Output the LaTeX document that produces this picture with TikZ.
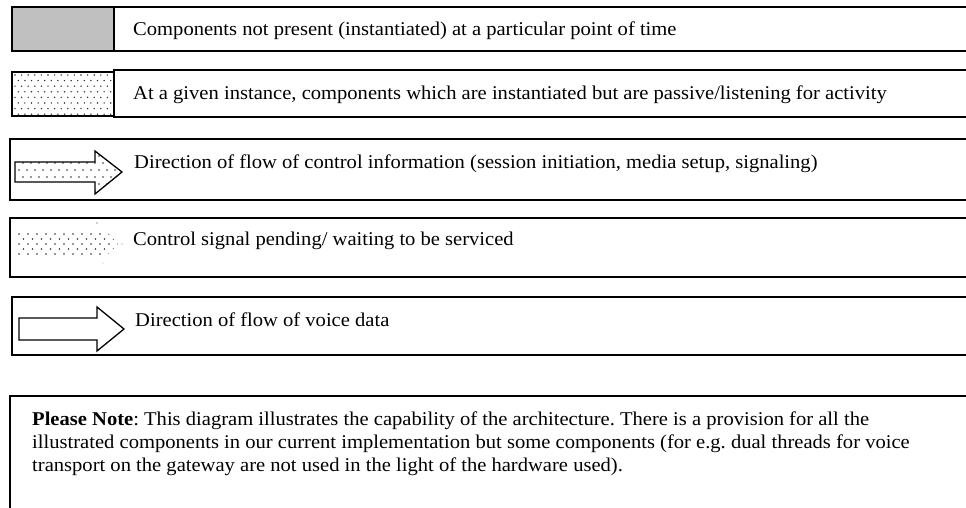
\documentclass[tikz,border=0pt]{standalone}
\usepackage{fontspec}
\setmainfont[FakeStretch=1.055]{Liberation Serif}
\begin{document}
\frenchspacing
\begin{tikzpicture}[x=1pt,y=-1pt,
  frame/.style={draw=black, line width=1.6pt},
  arrowshape/.style={draw=black, line width=1.3pt, line join=miter},
  lbl/.style={anchor=base west, inner sep=0pt, font=\fontsize{19.5}{23}\selectfont},
  note/.style={anchor=base west, inner sep=0pt, align=left,
    font=\fontsize{19.5}{23}\selectfont},
  dot/.style={fill=black!80}]
\useasboundingbox (0,0) rectangle (966,508);
\clip (0,0) rectangle (966,508);

% 1: absent components (grey)
\fill[fill={rgb,255:red,192;green,192;blue,192}] (12,7) rectangle (114,51);
\draw[frame] (12,7) rectangle (975,51);
\draw[frame] (114,7) -- (114,51);
\node[lbl] (absent) at (133,36) {Components not present (instantiated) at a particular point of time};

% 2: passive components (dotted)
\begin{scope}
  \clip (12,72) rectangle (114,116);
  \foreach \j in {0,...,7}
    \foreach \i in {0,...,16}
      \fill[dot] ({15+\i*6.6+mod(\j,2)*3.3},{75+\j*5.6}) circle (0.8);
\end{scope}
\draw[frame] (12,72) rectangle (114,116);
\draw[frame] (114,70) rectangle (975,117);
\node[lbl] (passive) at (133,100) {At a given instance, components which are instantiated but are passive/listening for activity};

% 3: control flow (dotted block arrow)
\draw[frame] (10,139) rectangle (975,200);
\def\ctrlarrow{(15,162) -- (95,162) -- (95,151) -- (122,172) -- (95,194) -- (95,182) -- (15,182) -- cycle}
\begin{scope}
  \clip \ctrlarrow;
  \foreach \j in {0,...,5}
    \foreach \i in {0,...,13}
      \fill[dot] ({19+\i*8+mod(\j,2)*4},{156+\j*7}) circle (0.8);
\end{scope}
\draw[arrowshape] \ctrlarrow;
\node[lbl] (control) at (134,168) {Direction of flow of control information (session initiation, media setup, signaling)};

% 4: pending control signal (dots only)
\draw[frame] (10,218) rectangle (975,277);
\begin{scope}
  \clip (16,229) -- (97,229) -- (97,221) -- (118,244) -- (97,266) -- (97,259) -- (16,259) -- cycle;
  \foreach \j in {0,...,4}
    \foreach \i in {0,...,11}
      \fill[dot] ({19+\i*9+mod(\j,2)*4.5},{234+\j*5}) circle (0.8);
\end{scope}
\fill[dot] (97,223) circle (0.7);
\fill[black!50] (122,244) circle (0.6);
\fill[black!40] (103,263) circle (0.5);
\node[lbl] (pending) at (133,245) {Control signal pending/ waiting to be serviced};

% 5: voice data flow (plain block arrow)
\draw[frame] (12,297) rectangle (975,355);
\draw[arrowshape] (19,318) -- (97,318) -- (97,307) -- (124,329) -- (97,351) -- (97,340) -- (19,340) -- cycle;
\node[lbl] (voice) at (135,326) {Direction of flow of voice data};

% 6: note (base anchor sits on the last line)
\draw[frame] (10,396) rectangle (975,515);
\node[note] (remark) at (32,471) {\textbf{Please Note}: This diagram illustrates the capability of the architecture. There is a provision for all the\\
illustrated components in our current implementation but some components (for e.g. dual threads for voice\\
transport on the gateway are not used in the light of the hardware used).};
\end{tikzpicture}
\end{document}
